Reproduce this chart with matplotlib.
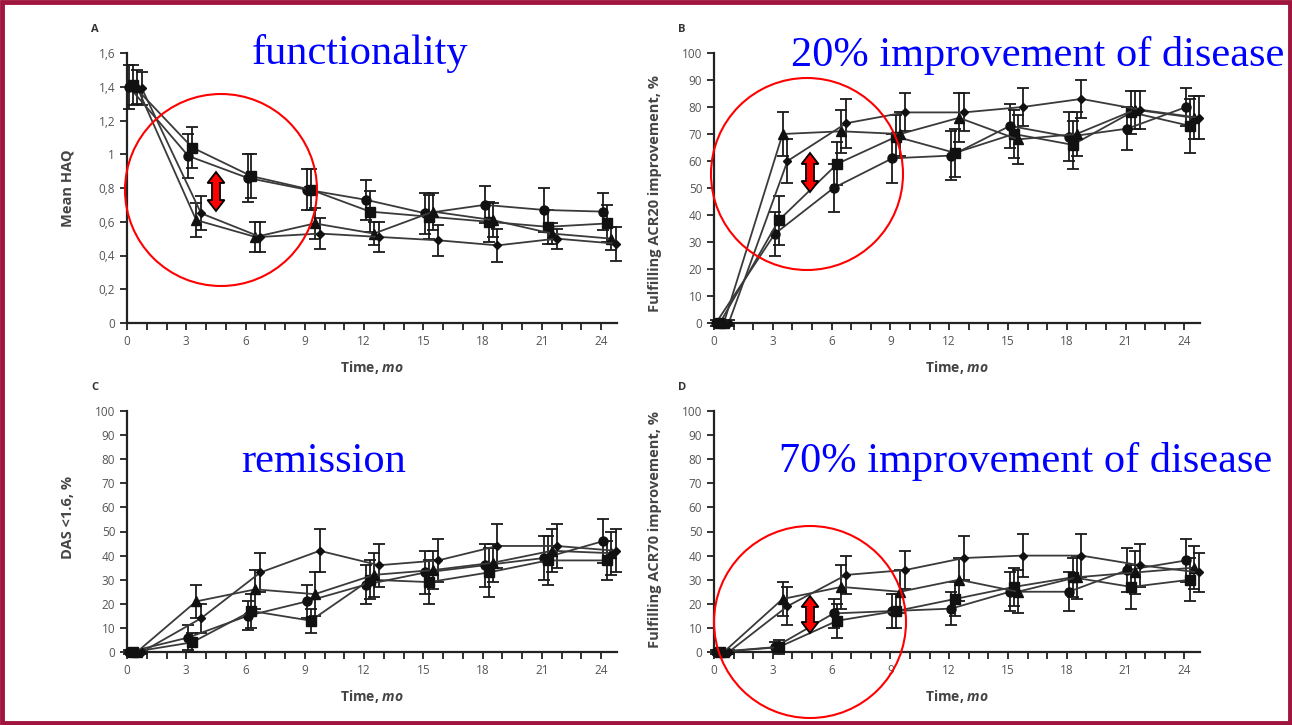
import matplotlib
matplotlib.use('Agg')
import matplotlib.pyplot as plt
from matplotlib.patches import Polygon, Ellipse, Rectangle

plt.rcParams['font.family'] = ['Open Sans', 'DejaVu Sans']
plt.rcParams['mathtext.fontset'] = 'custom'
plt.rcParams['mathtext.it'] = 'Open Sans:italic:bold'

W, H = 1292, 725

# data
months = [0, 3, 6, 9, 12, 15, 18, 21, 24]
offsets = [0.1, 0.3, 0.5, 0.75]          # circle, square, triangle, diamond
markers = ['o', 's', '^', 'D']
msizes = [6.5, 7.5, 6.5, 4.5]

haq_circle = [1.40, 0.99, 0.86, 0.79, 0.73, 0.65, 0.70, 0.67, 0.66]
haq_square = [1.41, 1.04, 0.87, 0.79, 0.66, 0.63, 0.60, 0.57, 0.59]
haq_triangle = [1.40, 0.61, 0.51, 0.59, 0.53, 0.66, 0.61, 0.53, 0.50]
haq_diamond = [1.39, 0.65, 0.51, 0.53, 0.51, 0.49, 0.46, 0.50, 0.47]
haq_err = [[0.13, 0.13, 0.14, 0.12, 0.12, 0.12, 0.11, 0.13, 0.11],
           [0.12, 0.12, 0.13, 0.12, 0.12, 0.13, 0.12, 0.10, 0.11],
           [0.10, 0.10, 0.09, 0.09, 0.07, 0.11, 0.10, 0.06, 0.07],
           [0.10, 0.10, 0.09, 0.09, 0.09, 0.09, 0.10, 0.06, 0.10]]

acr20_circle = [0, 33, 50, 61, 62, 73, 69, 72, 80]
acr20_square = [0, 38, 59, 69, 63, 70, 66, 78, 73]
acr20_triangle = [0, 70, 71, 70, 76, 68, 70, 79, 76]
acr20_diamond = [0, 60, 74, 78, 78, 80, 83, 79, 76]
acr20_err = [[1, 8, 9, 9, 9, 8, 9, 8, 7],
             [1, 9, 8, 8, 9, 9, 9, 8, 10],
             [1, 8, 8, 8, 9, 9, 8, 7, 8],
             [1, 8, 9, 7, 7, 7, 7, 7, 8]]

das_circle = [0, 6, 15, 21, 28, 33, 36, 39, 46]
das_square = [0, 4, 17, 13, 30, 29, 33, 38, 38]
das_triangle = [0, 21, 26, 24, 32, 34, 37, 42, 41]
das_diamond = [0, 14, 33, 42, 36, 38, 44, 44, 42]
das_err = [[1, 5, 6, 7, 8, 9, 9, 9, 9],
           [1, 4, 7, 5, 8, 9, 10, 10, 8],
           [1, 7, 8, 9, 9, 8, 8, 9, 9],
           [1, 6, 8, 9, 9, 9, 9, 9, 9]]

acr70_circle = [0, 2, 16, 17, 18, 25, 25, 34, 38]
acr70_square = [0, 2, 13, 17, 22, 27, 31, 27, 30]
acr70_triangle = [0, 22, 27, 25, 30, 25, 31, 33, 35]
acr70_diamond = [0, 19, 32, 34, 39, 40, 40, 36, 33]
acr70_err = [[1, 2, 6, 7, 7, 8, 8, 9, 9],
             [1, 3, 7, 7, 7, 8, 8, 9, 9],
             [1, 7, 9, 9, 9, 9, 9, 9, 9],
             [1, 8, 8, 8, 9, 9, 9, 9, 8]]

panels = [
    dict(letter='A', series=[haq_circle, haq_square, haq_triangle, haq_diamond], err=haq_err,
         ylim=1.6, yticks=[0, 0.2, 0.4, 0.6, 0.8, 1.0, 1.2, 1.4, 1.6],
         ylabels=['0', '0,2', '0,4', '0,6', '0,8', '1', '1,2', '1,4', '1,6'],
         ylabel='Mean HAQ', box=(127, 617, 53, 323), lab_y=0.5),
    dict(letter='B', series=[acr20_circle, acr20_square, acr20_triangle, acr20_diamond], err=acr20_err,
         ylim=100, yticks=list(range(0, 101, 10)), ylabels=[str(v) for v in range(0, 101, 10)],
         ylabel='Fulfilling ACR20 improvement, %', box=(714, 1200, 53, 323), lab_y=0.48),
    dict(letter='C', series=[das_circle, das_square, das_triangle, das_diamond], err=das_err,
         ylim=100, yticks=list(range(0, 101, 10)), ylabels=[str(v) for v in range(0, 101, 10)],
         ylabel='DAS <1.6, %', box=(127, 617, 411, 652), lab_y=0.56),
    dict(letter='D', series=[acr70_circle, acr70_square, acr70_triangle, acr70_diamond], err=acr70_err,
         ylim=100, yticks=list(range(0, 101, 10)), ylabels=[str(v) for v in range(0, 101, 10)],
         ylabel='Fulfilling ACR70 improvement, %', box=(714, 1200, 411, 652), lab_y=0.51),
]

fig = plt.figure(figsize=(W / 100, H / 100), dpi=100)

for p in panels:
    x0, x1, y0, y1 = p['box']
    ax = fig.add_axes([x0 / W, 1 - y1 / H, (x1 - x0) / W, (y1 - y0) / H])
    for vals, err, off, mk, ms in zip(p['series'], p['err'], offsets, markers, msizes):
        xs = [m + off for m in months]
        ax.errorbar(xs, vals, yerr=err, fmt='-', color='#3a3a3a', lw=1.3,
                    ecolor='#1a1a1a', elinewidth=1.3, capsize=4, capthick=1.3,
                    marker=mk, ms=ms, mfc='#111111', mec='#111111', zorder=3,
                    clip_on=False)
    ax.set_xlim(0, 24.8)
    ax.set_ylim(0, p['ylim'])
    ax.set_xticks(months)
    ax.set_xticks(range(0, 25), minor=True)
    ax.set_yticks(p['yticks'])
    ax.set_yticklabels(p['ylabels'])
    for s in ['top', 'right']:
        ax.spines[s].set_visible(False)
    for s in ['left', 'bottom']:
        ax.spines[s].set_linewidth(1.6)
        ax.spines[s].set_color('#222222')
    ax.tick_params(which='both', direction='out', length=5, width=1.3, color='#222222',
                   labelsize=8.5, labelcolor='#555555')
    ax.set_xlabel('Time, $mo$', fontsize=10, fontweight='bold', color='#444444', labelpad=8)
    ax.set_ylabel(p['ylabel'], fontsize=10.5, fontweight='bold', color='#444444')
    ax.yaxis.set_label_coords(-0.107, p['lab_y'])
    fig.text((x0 - 36) / W, 1 - (y0 - 23) / H, p['letter'], fontsize=8, fontweight='bold',
             color='#333333', ha='left', va='center')

# blue annotations
titles = [('functionality', 252, 64), ('20% improvement of disease', 791, 66),
          ('remission', 241, 472), ('70% improvement of disease', 779, 472)]
for txt, tx, ty in titles:
    fig.text(tx / W, 1 - ty / H, txt, fontsize=30.5, color='#0000ff',
             family='Liberation Serif', ha='left', va='baseline')

# red circles
for cx, cy in [(221, 190), (807, 174), (810, 622)]:
    fig.add_artist(Ellipse((cx / W, 1 - cy / H), 192 / W, 192 / H, fill=False,
                           ec='#ff0000', lw=1.5, transform=fig.transFigure))


# red double arrows
def double_arrow(cx, top, bot, sw=4, hw=8.5, hl=11):
    pts = [(cx, top), (cx + hw, top + hl), (cx + sw, top + hl), (cx + sw, bot - hl),
           (cx + hw, bot - hl), (cx, bot), (cx - hw, bot - hl), (cx - sw, bot - hl),
           (cx - sw, top + hl), (cx - hw, top + hl)]
    return Polygon([(x / W, 1 - y / H) for x, y in pts], closed=True, fc='#ff0000',
                   ec='black', lw=1.3, transform=fig.transFigure)


for cx, top, bot in [(216, 172, 211), (810, 153, 192), (810, 596, 633)]:
    fig.add_artist(double_arrow(cx, top, bot))

# border
fig.add_artist(Rectangle((0.0015, 0.0025), 0.997, 0.995, fill=False, ec='#a0153e', lw=3.5,
                         transform=fig.transFigure))

fig.savefig('out.png', dpi=100)
